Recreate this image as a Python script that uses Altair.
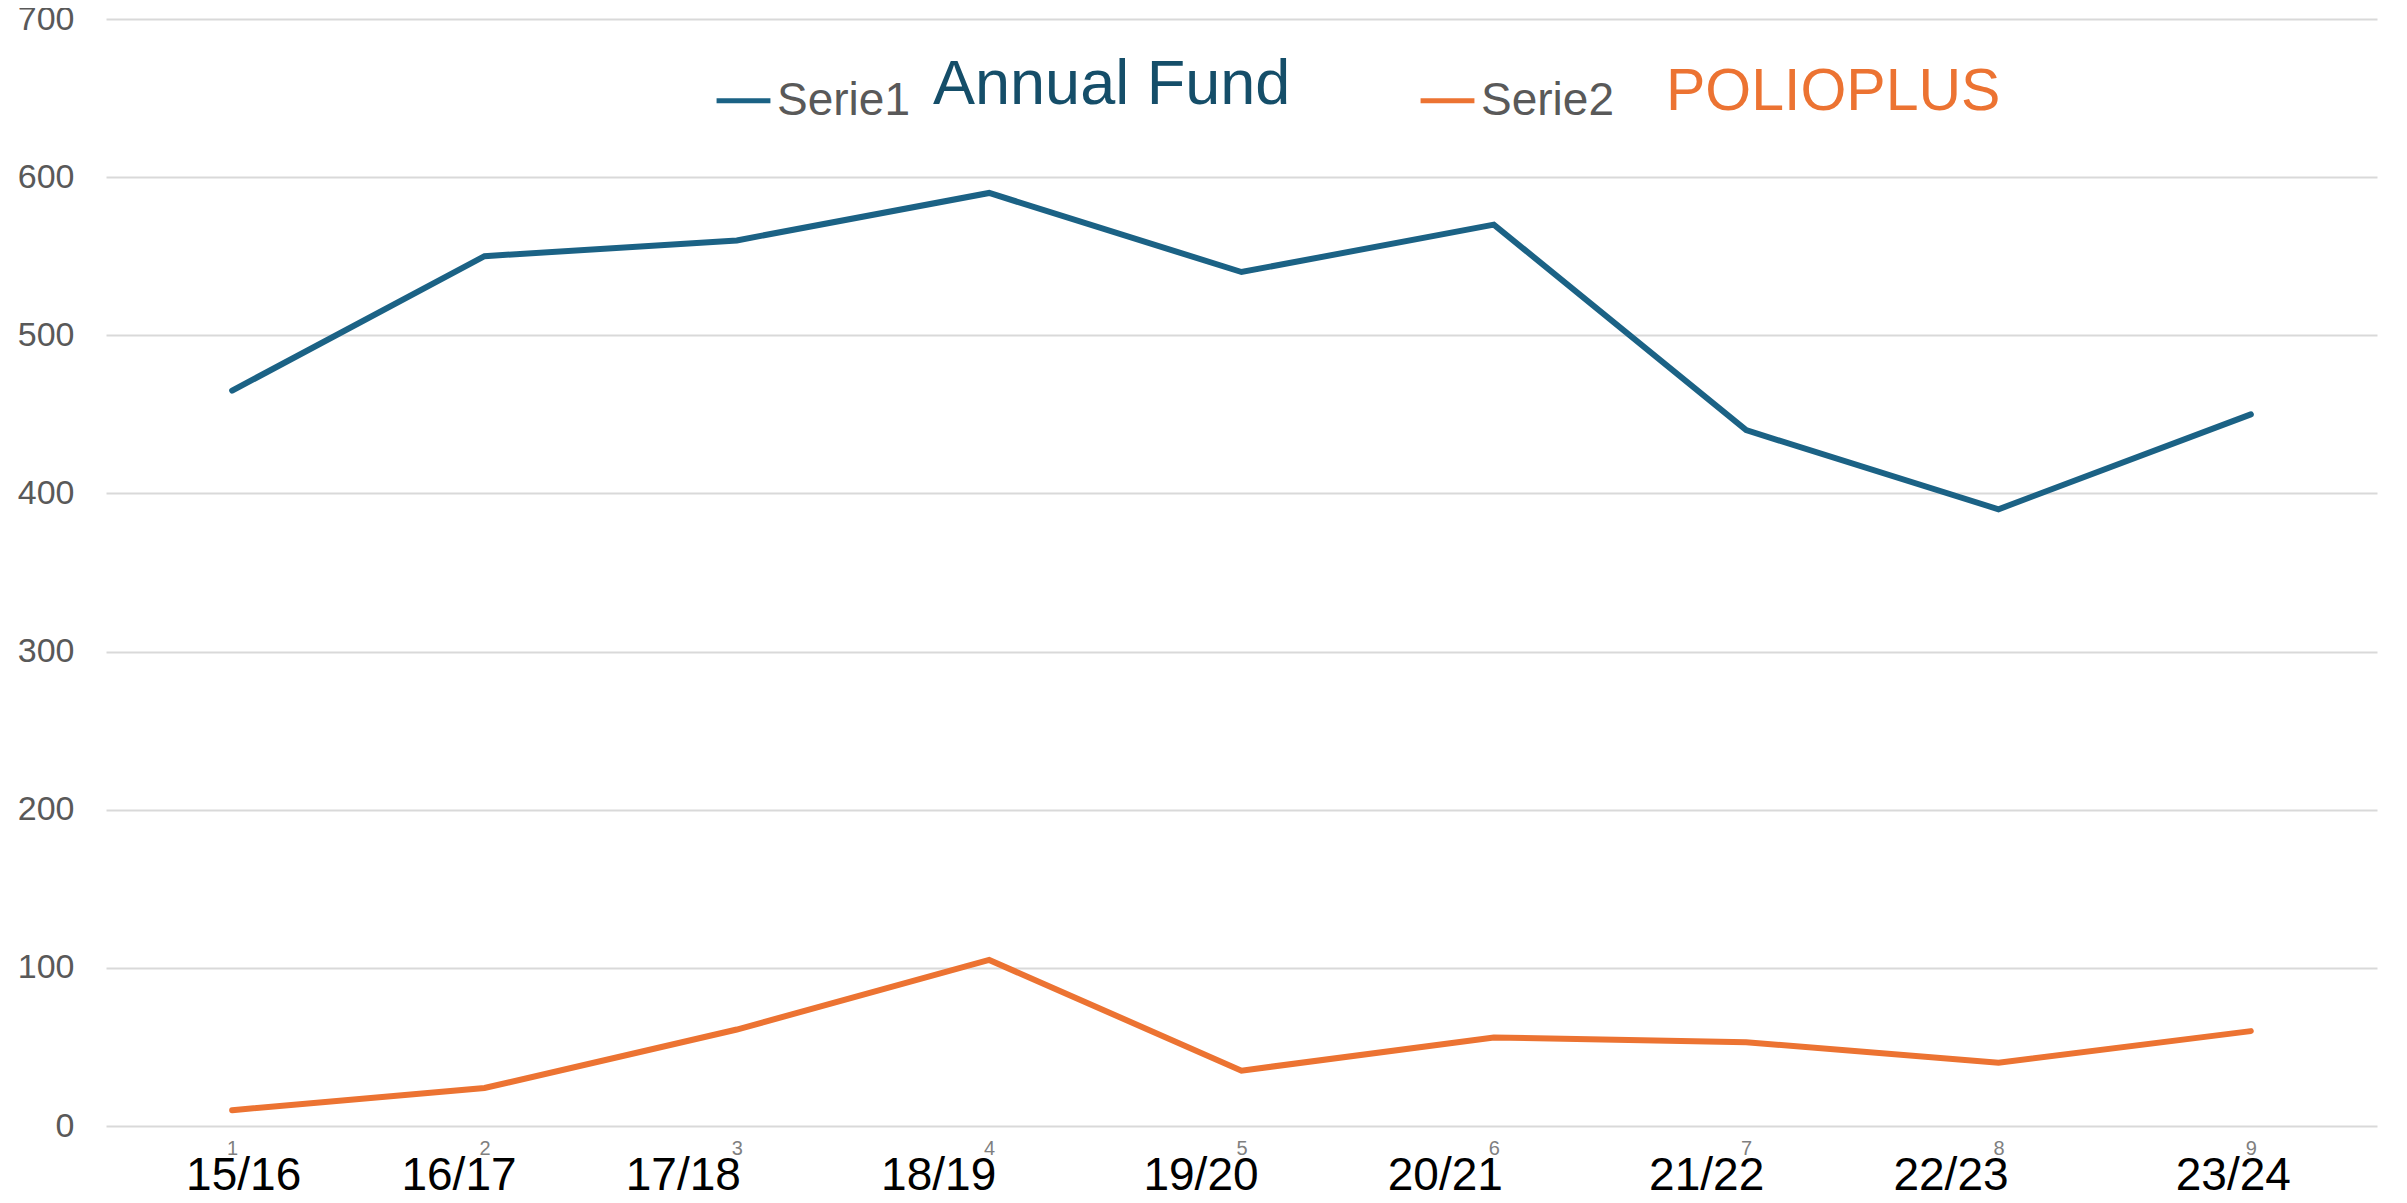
import altair as alt
import pandas as pd

seasons = ["15/16", "16/17", "17/18", "18/19", "19/20", "20/21", "21/22", "22/23", "23/24"]
idx_labels = ["1", "2", "3", "4", "5", "6", "7", "8", "9"]
annual_fund = [465, 550, 560, 590, 540, 570, 440, 390, 450]
polioplus = [10, 24, 61, 105, 35, 56, 53, 40, 60]
series_names = ["Serie1", "Serie2"]
series_colors = ["#1B6285", "#EC7332"]

rows = []
for i, s in enumerate(seasons):
    rows.append({"idx": idx_labels[i], "season": s, "serie": series_names[0], "value": annual_fund[i]})
    rows.append({"idx": idx_labels[i], "season": s, "serie": series_names[1], "value": polioplus[i]})
df = pd.DataFrame(rows)

W, H = 2271, 1107
FONT = "Liberation Sans"

# the season text boxes in the original sit slightly off their category centres
season_box_shift = [11, -26, -54, -51, -41, -49, -40, -48, -18]

xscale = alt.Scale(domain=idx_labels, paddingInner=0, paddingOuter=0.5)
yscale = alt.Scale(domain=[0, 700], nice=False)

season_map = "{" + ",".join(f"'{a}':'{b}'" for a, b in zip(idx_labels, seasons)) + "}"
shift_cond = {
    "condition": [{"test": f"datum.value == '{a}'", "value": s} for a, s in zip(idx_labels, season_box_shift)],
    "value": 0,
}

y_axis = alt.Axis(title=None, values=list(range(0, 701, 100)), domain=False, ticks=False,
                  grid=True, gridColor="#D9D9D9", gridWidth=2,
                  labelFontSize=34, labelColor="#595959", labelFont=FONT,
                  labelPadding=32)

lines = alt.Chart(df).mark_line(strokeWidth=6, strokeCap="round", strokeJoin="miter").encode(
    x=alt.X("idx:N", scale=xscale, sort=idx_labels,
            axis=alt.Axis(title=None, labelAngle=0, domain=False, ticks=False, grid=False,
                          labelFontSize=20, labelColor="#7F7F7F", labelFont=FONT,
                          labelPadding=12, orient="bottom")),
    y=alt.Y("value:Q", scale=yscale, axis=y_axis),
    color=alt.Color("serie:N", scale=alt.Scale(domain=series_names, range=series_colors),
                    legend=alt.Legend(title=None, orient="none", legendX=608, legendY=52,
                                      direction="horizontal", symbolType="stroke",
                                      symbolStrokeWidth=5, symbolSize=2900,
                                      labelFontSize=46, labelColor="#595959", labelFont=FONT,
                                      labelOffset=4, columnPadding=500, padding=0)),
    detail="serie:N",
)

season_axis = alt.Chart(df).mark_line(opacity=0).encode(
    x=alt.X("idx:N", scale=xscale, sort=idx_labels,
            axis=alt.Axis(title=None, labelAngle=0, domain=False, ticks=False, grid=False,
                          labelFontSize=46, labelColor="#000000", labelFont=FONT,
                          labelPadding=27, orient="bottom", labelOffset=shift_cond,
                          labelExpr=f"{season_map}[datum.value]")),
    y=alt.Y("value:Q", scale=yscale, axis=y_axis),
    detail="serie:N",
)

ann = pd.DataFrame({"label": ["Annual Fund", "POLIOPLUS"]})
t1 = alt.Chart(ann[ann.label == "Annual Fund"]).mark_text(
    fontSize=63, font=FONT, color="#154E69", align="left", baseline="alphabetic"
).encode(x=alt.value(827), y=alt.value(85), text="label:N")
t2 = alt.Chart(ann[ann.label == "POLIOPLUS"]).mark_text(
    fontSize=59, font=FONT, color="#EC7332", align="left", baseline="alphabetic"
).encode(x=alt.value(1560), y=alt.value(91), text="label:N")

chart = alt.layer(lines, season_axis, t1, t2).resolve_axis(x="independent").properties(
    width=W, height=H,
    background="white",
    autosize=alt.AutoSizeParams(type="none"),
    padding={"left": 98, "top": 11, "right": 12, "bottom": 69},
).configure_view(strokeWidth=0, stroke="transparent")

chart.save("out.html", embed_options={"renderer": "svg", "actions": False})
